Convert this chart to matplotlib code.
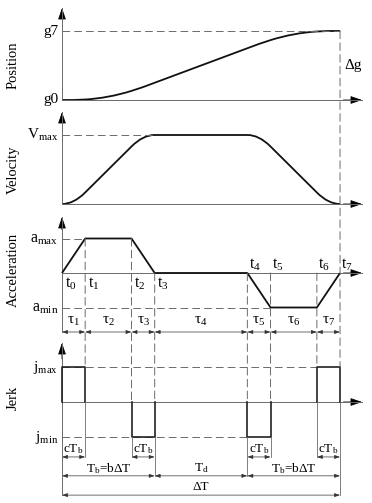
import numpy as np
import matplotlib
matplotlib.use('Agg')
import matplotlib.pyplot as plt
from matplotlib.patches import FancyArrowPatch, ConnectionPatch, PathPatch
from matplotlib.path import Path

plt.rcParams['font.family'] = ['Liberation Serif', 'DejaVu Serif']
plt.rcParams['mathtext.fontset'] = 'custom'
plt.rcParams['mathtext.rm'] = 'Liberation Serif'
plt.rcParams['mathtext.it'] = 'Liberation Serif'
plt.rcParams['mathtext.bf'] = 'Liberation Serif:bold'
plt.rcParams['lines.scale_dashes'] = False

# ---------------- data ----------------
t_knots = [0, 1, 3, 4, 8, 9, 11, 12]
t_names = ['t$_0$', 't$_1$', 't$_2$', 't$_3$', 't$_4$', 't$_5$', 't$_6$', 't$_7$']
acc_knots = [0, 1, 1, 0, 0, -1, -1, 0]
vel_knots = [0, 0.5, 2.5, 3, 3, 2.5, 0.5, 0]
pos_knots = [0, 0.17, 3.17, 6, 18, 20.83, 23.83, 24]
jerk_steps = [1, 0, -1, 0, -1, 0, 1]
tau_names = ['τ$_1$', 'τ$_2$', 'τ$_3$', 'τ$_4$', 'τ$_5$', 'τ$_6$', 'τ$_7$']
panel_names = ['Position', 'Velocity', 'Acceleration', 'Jerk']
seg_names = ['T$_\\mathrm{b}$=bΔT', 'T$_\\mathrm{d}$', 'T$_\\mathrm{b}$=bΔT']
seg_bounds = [0, 4, 8, 12]

# ---------------- layout ----------------
W, H = 372, 503
fig = plt.figure(figsize=(W / 100, H / 100), dpi=100)
T0_PX, PX_T = 62, 23.17
X_TIP = (362 - T0_PX) / PX_T

def panel(base_px, px_unit, top_px, bot_px):
    ax = fig.add_axes([0, 1 - bot_px / H, 1, (bot_px - top_px) / H])
    ax.set_xlim(-T0_PX / PX_T, (W - T0_PX) / PX_T)
    ax.set_ylim((base_px - bot_px) / px_unit, (base_px - top_px) / px_unit)
    ax.axis('off')
    return ax

ax_p = panel(100, 69 / 24, 8, 110)
ax_v = panel(204, 23, 112, 212)
ax_a = panel(273, 34.5, 217, 345)
ax_j = panel(402, 35, 343, 503)

GRAY = '#6a6a6a'
DASH = (0, (5.5, 3.0))
CURVE_KW = dict(color='#111111', lw=1.3, solid_capstyle='butt')

def head(ax, xy_from, xy_to):
    ax.add_patch(FancyArrowPatch(xy_from, xy_to, arrowstyle='-|>,head_length=7,head_width=2.4',
                                 mutation_scale=1, color='black', lw=0.6, clip_on=False,
                                 shrinkA=0, shrinkB=0))

def axes_lines(ax, ybot):
    ytop = ax.get_ylim()[1]
    ax.plot([0, X_TIP], [0, 0], color=GRAY, lw=0.7, clip_on=False)
    ax.plot([0, 0], [ybot, ytop], color=GRAY, lw=0.7, clip_on=False)
    span = ytop - ax.get_ylim()[0]
    head(ax, (0, ytop - 0.1 * span), (0, ytop))
    head(ax, (X_TIP - 0.8, 0), (X_TIP, 0))

def dim_arrow(ax, x0, x1, y):
    ax.add_patch(FancyArrowPatch((x0, y), (x1, y), arrowstyle='<|-|>,head_length=3.2,head_width=1.1',
                                 mutation_scale=1, color='#333333', lw=0.5, clip_on=False,
                                 shrinkA=0, shrinkB=0))

def hermite_path(ax, t, y, dy):
    verts = [(t[0], y[0])]
    codes = [Path.MOVETO]
    for i in range(len(t) - 1):
        d = (t[i + 1] - t[i]) / 3
        verts += [(t[i] + d, y[i] + dy[i] * d), (t[i + 1] - d, y[i + 1] - dy[i + 1] * d), (t[i + 1], y[i + 1])]
        codes += [Path.CURVE4] * 3
    ax.add_patch(PathPatch(Path(verts, codes), fill=False, ec='#111111', lw=1.3, clip_on=False))

def vconn(ax1, y1, ax2, y2, x, dashed=True, color=GRAY, lw=0.7):
    con = ConnectionPatch(xyA=(x, y1), coordsA=ax1.transData, xyB=(x, y2), coordsB=ax2.transData,
                          color=color, lw=lw, linestyle=DASH if dashed else '-')
    fig.add_artist(con)

# ---------------- Position ----------------
axes_lines(ax_p, 0)
hermite_path(ax_p, t_knots, pos_knots, vel_knots)
ax_p.plot([0, t_knots[-1]], [pos_knots[-1]] * 2, color=GRAY, lw=0.7, ls=DASH)
ax_p.text(-0.17, pos_knots[-1], 'g7', ha='right', va='center', fontsize=11)
ax_p.text(-0.17, 0, 'g0', ha='right', va='center', fontsize=11)
ax_p.text(t_knots[-1] + 0.2, pos_knots[-1] / 2, 'Δg', ha='left', va='center', fontsize=11)

# ---------------- Velocity ----------------
axes_lines(ax_v, 0)
hermite_path(ax_v, t_knots, vel_knots, acc_knots)
vmax = max(vel_knots)
ax_v.plot([0, t_knots[3]], [vmax, vmax], color=GRAY, lw=0.7, ls=DASH)
ax_v.text(-0.17, vmax, 'V$_\\mathrm{max}$', ha='right', va='center', fontsize=11)

# ---------------- Acceleration ----------------
TAU_Y, TAU_TXT = -1.71, -1.39
axes_lines(ax_a, TAU_Y)
ax_a.plot(t_knots, acc_knots, **CURVE_KW)
amax, amin = max(acc_knots), min(acc_knots)
ax_a.plot([0, t_knots[1]], [amax, amax], color=GRAY, lw=0.7, ls=DASH)
ax_a.plot([0, t_knots[5]], [amin, amin], color=GRAY, lw=0.7, ls=DASH)
ax_a.text(-0.17, amax, 'a$_\\mathrm{max}$', ha='right', va='center', fontsize=11.5)
ax_a.text(-0.17, amin, 'a$_\\mathrm{min}$', ha='right', va='center', fontsize=11.5)
for i, (tk, nm) in enumerate(zip(t_knots, t_names)):
    if i < 4:
        ax_a.text(tk + 0.12, -0.32, nm, ha='left', va='center', fontsize=11.5)
    else:
        ax_a.text(tk + 0.06, 0.25, nm, ha='left', va='center', fontsize=11.5)
for i in range(len(t_knots) - 1):
    dim_arrow(ax_a, t_knots[i], t_knots[i + 1], TAU_Y)
    ax_a.text((t_knots[i] + t_knots[i + 1]) / 2, TAU_TXT, tau_names[i], ha='center', va='center', fontsize=11)

# ---------------- Jerk ----------------
CTB_Y, CTB_TXT = -1.57, -1.34
TB_Y, TB_TXT = -2.11, -1.89
DT_Y, DT_TXT = -2.66, -2.43
axes_lines(ax_j, DT_Y)
jmax, jmin = max(jerk_steps), min(jerk_steps)
ax_j.plot([0, t_knots[6]], [jmax, jmax], color=GRAY, lw=0.7, ls=DASH)
ax_j.plot([0, t_knots[4]], [jmin, jmin], color=GRAY, lw=0.7, ls=DASH)
ax_j.text(-0.17, jmax, 'j$_\\mathrm{max}$', ha='right', va='center', fontsize=11)
ax_j.text(-0.17, jmin, 'j$_\\mathrm{min}$', ha='right', va='center', fontsize=11)
for i, j in enumerate(jerk_steps):
    if j == 0:
        continue
    a, b = t_knots[i], t_knots[i + 1]
    ax_j.plot([a, a, b, b], [0, j, j, 0], color='#222222', lw=1.2, clip_on=False)
    dim_arrow(ax_j, a, b, CTB_Y)
    ax_j.text((a + b) / 2, CTB_TXT, 'cT$_\\mathrm{b}$', ha='center', va='center', fontsize=9.5)
for k in range(len(seg_bounds) - 1):
    dim_arrow(ax_j, seg_bounds[k], seg_bounds[k + 1], TB_Y)
    ax_j.text((seg_bounds[k] + seg_bounds[k + 1]) / 2, TB_TXT, seg_names[k], ha='center', va='center', fontsize=9.5)
dim_arrow(ax_j, seg_bounds[0], seg_bounds[-1], DT_Y)
ax_j.text((seg_bounds[0] + seg_bounds[-1]) / 2, DT_TXT, 'ΔT', ha='center', va='center', fontsize=9.5)

# ---------------- vertical guide lines ----------------
t1, t2, t3, t4, t5, t6, t7 = t_knots[1:]
vconn(ax_p, pos_knots[-1], ax_j, jmax, t7)
vconn(ax_a, amax, ax_j, jmax, t1)
vconn(ax_a, amax, ax_j, 0, t2)
vconn(ax_a, 0, ax_j, 0, t3)
vconn(ax_a, 0, ax_j, 0, t4)
vconn(ax_a, 0, ax_j, 0, t5)
vconn(ax_a, 0, ax_j, jmax, t6)
# solid extension lines below the jerk pulses
ax_j.plot([t1, t1], [0, CTB_Y], color=GRAY, lw=0.6, clip_on=False)
ax_j.plot([t2, t2], [jmin, CTB_Y], color=GRAY, lw=0.6, clip_on=False)
ax_j.plot([t3, t3], [jmin, TB_Y], color=GRAY, lw=0.6, clip_on=False)
ax_j.plot([t4, t4], [jmin, TB_Y], color=GRAY, lw=0.6, clip_on=False)
ax_j.plot([t5, t5], [jmin, CTB_Y], color=GRAY, lw=0.6, clip_on=False)
ax_j.plot([t6, t6], [0, CTB_Y], color=GRAY, lw=0.6, clip_on=False)
ax_j.plot([t7, t7], [0, DT_Y], color=GRAY, lw=0.6, clip_on=False)

# ---------------- panel titles ----------------
for name, ypx in zip(panel_names, [65, 170, 270, 398]):
    fig.text(13 / W, 1 - ypx / H, name, rotation=90, ha='center', va='center', fontsize=10.5)

fig.savefig('out.png', dpi=100)
